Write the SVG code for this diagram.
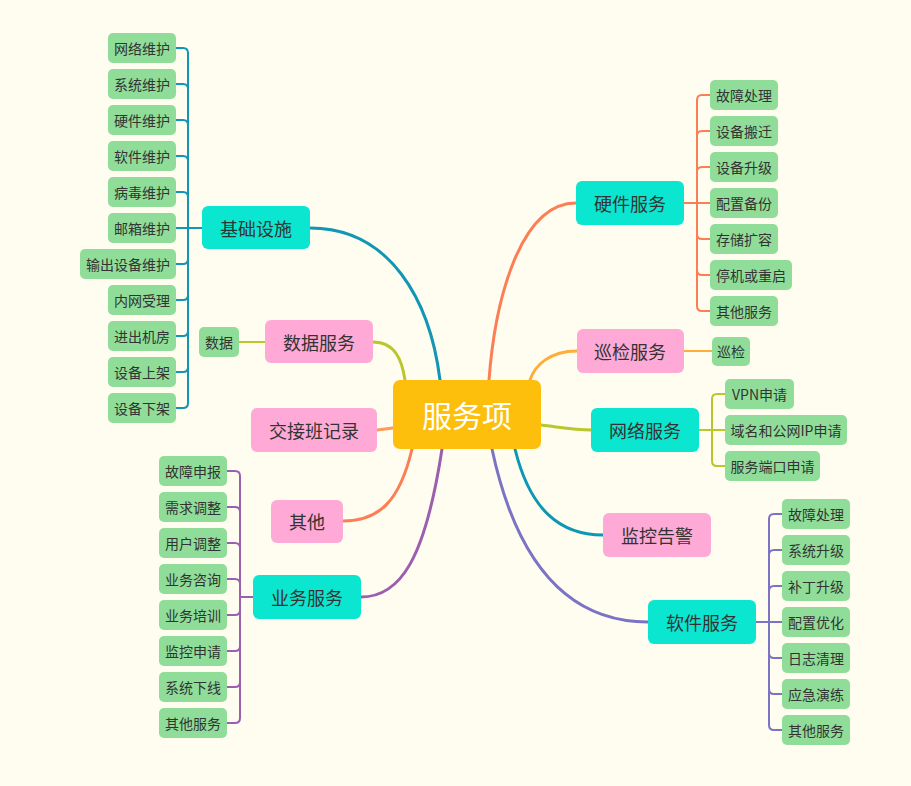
<svg xmlns="http://www.w3.org/2000/svg" width="911" height="786" viewBox="0 0 911 786">
<style>
text{font-family:"Noto Sans CJK SC","Microsoft YaHei",sans-serif;fill:#333;text-anchor:middle;dominant-baseline:central}
.leaf rect{fill:#8fdd98}
.leaf text{font-size:14px}
.t rect{fill:#0be6d0}
.p rect{fill:#ffaad6}
.t text,.p text{font-size:18px}
.c{fill:none;stroke-width:3;stroke-linecap:round}
.b{fill:none;stroke-width:2}
</style>
<rect width="911" height="786" fill="#fffcf0"/>
<g id="connectors">
<path class="c" stroke="#1196b6" d="M310 228 C390 228 430 300 440 380"/>
<path class="c" stroke="#b9c62c" d="M373 342 C395 342 402 360 405 380"/>
<path class="c" stroke="#ff9a5c" d="M377 430 L393 428"/>
<path class="c" stroke="#fc7e54" d="M576 203 C520 203 495 300 489 380"/>
<path class="c" stroke="#ffad3a" d="M577 351 C550 351 535 365 530 380"/>
<path class="c" stroke="#b9c62c" d="M541 425 C565 428 575 430 591 430"/>
<path class="c" stroke="#0c98b5" d="M515 449 C530 510 560 535 603 535"/>
<path class="c" stroke="#7b73c4" d="M492 449 C520 580 580 622 648 622"/>
<path class="c" stroke="#9c5fb0" d="M442 449 C425 560 400 597 361 597"/>
<path class="c" stroke="#fc7e54" d="M412 449 C400 500 380 521 343 521"/>
<g stroke="#1196b6">
<path class="b" d="M202 228 H188 V53 Q188 48 183 48 H176"/>
<path class="b" d="M188 89 Q188 84 183 84 H176"/>
<path class="b" d="M188 125 Q188 120 183 120 H176"/>
<path class="b" d="M188 161 Q188 156 183 156 H176"/>
<path class="b" d="M188 197 Q188 192 183 192 H176"/>
<path class="b" d="M188 228 H176"/>
<path class="b" d="M188 259 Q188 264 183 264 H176"/>
<path class="b" d="M188 295 Q188 300 183 300 H176"/>
<path class="b" d="M188 331 Q188 336 183 336 H176"/>
<path class="b" d="M188 367 Q188 372 183 372 H176"/>
<path class="b" d="M202 228 H188 V403 Q188 408 183 408 H176"/>
</g>
<path class="b" stroke="#b9c62c" d="M265 342 H239"/>
<g stroke="#fc7e54">
<path class="b" d="M684 203 H697 V100 Q697 95 702 95 H710"/>
<path class="b" d="M697 136 Q697 131 702 131 H710"/>
<path class="b" d="M697 172 Q697 167 702 167 H710"/>
<path class="b" d="M697 203 H710"/>
<path class="b" d="M697 234 Q697 239 702 239 H710"/>
<path class="b" d="M697 270 Q697 275 702 275 H710"/>
<path class="b" d="M684 203 H697 V306 Q697 311 702 311 H710"/>
</g>
<path class="b" stroke="#ffad3a" d="M684 351 H712"/>
<g stroke="#b9c62c">
<path class="b" d="M699 430 H712 V399 Q712 394 717 394 H725"/>
<path class="b" d="M712 430 H725"/>
<path class="b" d="M699 430 H712 V461 Q712 466 717 466 H725"/>
</g>
<g stroke="#7b73c4">
<path class="b" d="M756 622 H769 V519 Q769 514 774 514 H782"/>
<path class="b" d="M769 555 Q769 550 774 550 H782"/>
<path class="b" d="M769 591 Q769 586 774 586 H782"/>
<path class="b" d="M769 622 H782"/>
<path class="b" d="M769 653 Q769 658 774 658 H782"/>
<path class="b" d="M769 689 Q769 694 774 694 H782"/>
<path class="b" d="M756 622 H769 V725 Q769 730 774 730 H782"/>
</g>
<g stroke="#9c5fb0">
<path class="b" d="M253 597 H240 V476 Q240 471 235 471 H227"/>
<path class="b" d="M240 512 Q240 507 235 507 H227"/>
<path class="b" d="M240 548 Q240 543 235 543 H227"/>
<path class="b" d="M240 584 Q240 579 235 579 H227"/>
<path class="b" d="M240 610 Q240 615 235 615 H227"/>
<path class="b" d="M240 646 Q240 651 235 651 H227"/>
<path class="b" d="M240 682 Q240 687 235 687 H227"/>
<path class="b" d="M253 597 H240 V718 Q240 723 235 723 H227"/>
</g>
</g>
<g id="center"><rect x="393" y="380" width="148" height="69" rx="7" fill="#fdbf0c"/><text x="467" y="414" style="font-size:30px;fill:#fff">服务项</text></g>
<g id="jichu" class="t"><rect x="202" y="206" width="108" height="43" rx="6"/><text x="256" y="227.5">基础设施</text></g>
<g id="shuju" class="p"><rect x="265" y="320" width="108" height="43" rx="6"/><text x="319" y="341.5">数据服务</text></g>
<g id="jiaojie" class="p"><rect x="251" y="408" width="126" height="44" rx="6"/><text x="314" y="429.5">交接班记录</text></g>
<g id="qita" class="p"><rect x="271" y="500" width="72" height="43" rx="6"/><text x="307" y="520.5">其他</text></g>
<g id="yewu" class="t"><rect x="253" y="575" width="108" height="44" rx="6"/><text x="307" y="596.5">业务服务</text></g>
<g id="yingjian" class="t"><rect x="576" y="181" width="108" height="44" rx="6"/><text x="630" y="202.5">硬件服务</text></g>
<g id="xunjian" class="p"><rect x="577" y="329" width="107" height="44" rx="6"/><text x="630" y="350.5">巡检服务</text></g>
<g id="wangluo" class="t"><rect x="591" y="408" width="108" height="44" rx="6"/><text x="645" y="429.5">网络服务</text></g>
<g id="jiankong" class="p"><rect x="603" y="513" width="108" height="44" rx="6"/><text x="657" y="534.5">监控告警</text></g>
<g id="ruanjian" class="t"><rect x="648" y="600" width="108" height="44" rx="6"/><text x="702" y="621.5">软件服务</text></g>

<g id="jc1" class="leaf"><rect x="108" y="33" width="68" height="30" rx="5"/><text x="142" y="47.5">网络维护</text></g>
<g id="jc2" class="leaf"><rect x="108" y="69" width="68" height="30" rx="5"/><text x="142" y="83.5">系统维护</text></g>
<g id="jc3" class="leaf"><rect x="108" y="105" width="68" height="30" rx="5"/><text x="142" y="119.5">硬件维护</text></g>
<g id="jc4" class="leaf"><rect x="108" y="141" width="68" height="30" rx="5"/><text x="142" y="155.5">软件维护</text></g>
<g id="jc5" class="leaf"><rect x="108" y="177" width="68" height="30" rx="5"/><text x="142" y="191.5">病毒维护</text></g>
<g id="jc6" class="leaf"><rect x="108" y="213" width="68" height="30" rx="5"/><text x="142" y="227.5">邮箱维护</text></g>
<g id="jc7" class="leaf"><rect x="80" y="249" width="96" height="30" rx="5"/><text x="128" y="263.5">输出设备维护</text></g>
<g id="jc8" class="leaf"><rect x="108" y="285" width="68" height="30" rx="5"/><text x="142" y="299.5">内网受理</text></g>
<g id="jc9" class="leaf"><rect x="108" y="321" width="68" height="30" rx="5"/><text x="142" y="335.5">进出机房</text></g>
<g id="jc10" class="leaf"><rect x="108" y="357" width="68" height="30" rx="5"/><text x="142" y="371.5">设备上架</text></g>
<g id="jc11" class="leaf"><rect x="108" y="393" width="68" height="30" rx="5"/><text x="142" y="407.5">设备下架</text></g>

<g id="sj1" class="leaf"><rect x="199" y="327" width="40" height="30" rx="5"/><text x="219" y="341.5">数据</text></g>

<g id="yj1" class="leaf"><rect x="710" y="80" width="68" height="30" rx="5"/><text x="744" y="94.5">故障处理</text></g>
<g id="yj2" class="leaf"><rect x="710" y="116" width="68" height="30" rx="5"/><text x="744" y="130.5">设备搬迁</text></g>
<g id="yj3" class="leaf"><rect x="710" y="152" width="68" height="30" rx="5"/><text x="744" y="166.5">设备升级</text></g>
<g id="yj4" class="leaf"><rect x="710" y="188" width="68" height="30" rx="5"/><text x="744" y="202.5">配置备份</text></g>
<g id="yj5" class="leaf"><rect x="710" y="224" width="68" height="30" rx="5"/><text x="744" y="238.5">存储扩容</text></g>
<g id="yj6" class="leaf"><rect x="710" y="260" width="82" height="30" rx="5"/><text x="751" y="274.5">停机或重启</text></g>
<g id="yj7" class="leaf"><rect x="710" y="296" width="68" height="30" rx="5"/><text x="744" y="310.5">其他服务</text></g>

<g id="xj1" class="leaf"><rect x="712" y="337" width="38" height="29" rx="5"/><text x="731" y="350.5">巡检</text></g>

<g id="wl1" class="leaf"><rect x="725" y="379" width="69" height="30" rx="5"/><text x="759.5" y="393.5">VPN申请</text></g>
<g id="wl2" class="leaf"><rect x="725" y="415" width="122" height="30" rx="5"/><text x="786" y="429.5">域名和公网IP申请</text></g>
<g id="wl3" class="leaf"><rect x="725" y="451" width="95" height="30" rx="5"/><text x="772.5" y="465.5">服务端口申请</text></g>

<g id="rj1" class="leaf"><rect x="782" y="499" width="68" height="30" rx="5"/><text x="816" y="513.5">故障处理</text></g>
<g id="rj2" class="leaf"><rect x="782" y="535" width="68" height="30" rx="5"/><text x="816" y="549.5">系统升级</text></g>
<g id="rj3" class="leaf"><rect x="782" y="571" width="68" height="30" rx="5"/><text x="816" y="585.5">补丁升级</text></g>
<g id="rj4" class="leaf"><rect x="782" y="607" width="68" height="30" rx="5"/><text x="816" y="621.5">配置优化</text></g>
<g id="rj5" class="leaf"><rect x="782" y="643" width="68" height="30" rx="5"/><text x="816" y="657.5">日志清理</text></g>
<g id="rj6" class="leaf"><rect x="782" y="679" width="68" height="30" rx="5"/><text x="816" y="693.5">应急演练</text></g>
<g id="rj7" class="leaf"><rect x="782" y="715" width="68" height="30" rx="5"/><text x="816" y="729.5">其他服务</text></g>

<g id="yw1" class="leaf"><rect x="159" y="456" width="68" height="30" rx="5"/><text x="193" y="470.5">故障申报</text></g>
<g id="yw2" class="leaf"><rect x="159" y="492" width="68" height="30" rx="5"/><text x="193" y="506.5">需求调整</text></g>
<g id="yw3" class="leaf"><rect x="159" y="528" width="68" height="30" rx="5"/><text x="193" y="542.5">用户调整</text></g>
<g id="yw4" class="leaf"><rect x="159" y="564" width="68" height="30" rx="5"/><text x="193" y="578.5">业务咨询</text></g>
<g id="yw5" class="leaf"><rect x="159" y="600" width="68" height="30" rx="5"/><text x="193" y="614.5">业务培训</text></g>
<g id="yw6" class="leaf"><rect x="159" y="636" width="68" height="30" rx="5"/><text x="193" y="650.5">监控申请</text></g>
<g id="yw7" class="leaf"><rect x="159" y="672" width="68" height="30" rx="5"/><text x="193" y="686.5">系统下线</text></g>
<g id="yw8" class="leaf"><rect x="159" y="708" width="68" height="30" rx="5"/><text x="193" y="722.5">其他服务</text></g>
</svg>
